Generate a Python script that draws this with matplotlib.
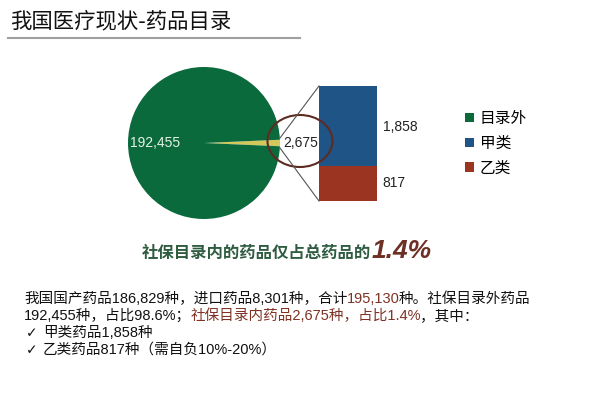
import matplotlib
matplotlib.use("Agg")
import matplotlib.pyplot as plt
from matplotlib.patches import Ellipse, Patch

plt.rcParams['font.family'] = ['Liberation Sans', 'Noto Sans CJK SC', 'DejaVu Sans']
FAM = ['Liberation Sans', 'Noto Sans CJK SC', 'DejaVu Sans']

# ---- data ----
title = "我国医疗现状-药品目录"
pie_labels = ["目录内", "目录外"]
pie_values = [2675, 192455]
bar_labels = ["乙类", "甲类"]
bar_values = [817, 1858]
legend_labels = ["目录外", "甲类", "乙类"]
subtitle = "社保目录内的药品仅占总药品的"
subtitle_pct = "1.4%"
body_lines = [
    [("我国国产药品186,829种，进口药品8,301种，合计", "k"), ("195,130", "b"), ("种。社保目录外药品", "k")],
    [("192,455种，占比98.6%；", "k"), ("社保目录内药品2,675种，占比1.4%", "b"), ("，其中：", "k")],
]
check_items = ["甲类药品1,858种", "乙类药品817种（需自负10%-20%）"]

GREEN = '#0a6a3c'
YELLOW = '#d3c85a'
BLUE = '#1f5487'
RED = '#9b3522'
BROWN = '#7f3224'

W, H = 600, 399
fig = plt.figure(figsize=(6, 3.99), dpi=100)
fig.patch.set_facecolor('white')

def fax(left, top, w, h):
    return fig.add_axes([left / W, 1 - (top + h) / H, w / W, h / H])

# ---- pie ----
pax = fax(128, 67, 152, 152)
total = sum(pie_values)
small_angle = pie_values[0] / total * 360
wedges, _ = pax.pie(pie_values, colors=[YELLOW, GREEN], startangle=-small_angle / 2,
                    radius=1, counterclock=True, wedgeprops=dict(linewidth=0))
pax.set_xlim(-1, 1)
pax.set_ylim(-1, 1)
pax.set_aspect('equal')
pax.axis('off')
pax.text(-0.645, 0, f"{pie_values[1]:,}", color='#e6f3e6', fontsize=10,
         ha='center', va='center', family=FAM)

# ---- stacked bar ----
bax = fax(319, 86, 58, 115)
bax.bar(0, bar_values[0], width=1, color=RED, linewidth=0)
bax.bar(0, bar_values[1], bottom=bar_values[0], width=1, color=BLUE, linewidth=0)
bax.set_xlim(-0.5, 0.5)
bax.set_ylim(0, sum(bar_values))
bax.axis('off')
bax.annotate(f"{bar_values[1]:,}", xy=(0.5, bar_values[0] + bar_values[1] / 2 - 30),
             xytext=(4, 0), textcoords='offset points', ha='left', va='center',
             fontsize=10, color='#222222', annotation_clip=False)
bax.annotate(f"{bar_values[0]:,}", xy=(0.5, bar_values[0] / 2),
             xytext=(4, 0), textcoords='offset points', ha='left', va='center',
             fontsize=10, color='#222222', annotation_clip=False)

# ---- overlay ----
ov = fig.add_axes([0, 0, 1, 1])
ov.set_xlim(0, W)
ov.set_ylim(H, 0)
ov.axis('off')
ov.patch.set_visible(False)

ov.add_patch(Ellipse((300, 141), 65, 52, fill=False, edgecolor='#5e2b22', lw=1.5))
ov.plot([280, 319], [138, 86], color='#555555', lw=0.8)
ov.plot([280, 319], [148, 201], color='#555555', lw=0.8)
ov.text(283, 143, f"{pie_values[0]:,}", fontsize=10, color='#222222', ha='left', va='center')

ov.text(10, 21, title, fontsize=15.4, color='#111111', ha='left', va='center',
        family=['Noto Sans CJK SC', 'DejaVu Sans'])
ov.plot([8, 300], [38, 38], color='#a0a0a0', lw=1.5)

renderer = fig.canvas.get_renderer()

def rich_line(x, y, segments, size, gap=-1):
    for s, c, kw in segments:
        opts = dict(color=c, fontsize=size, va='baseline', ha='left')
        opts.update(kw)
        t = ov.text(x, y, s, **opts)
        bb = t.get_window_extent(renderer)
        x = ov.transData.inverted().transform((bb.x1, bb.y0))[0] + gap

rich_line(142, 258, [(subtitle, '#2f5c40', dict(family=['Noto Sans CJK SC'], fontweight='bold')),
                     (subtitle_pct, '#6e2f25', dict(family=['Liberation Sans'], fontweight='bold',
                                                   style='italic', fontsize=19))], 11.8, gap=0)

cmap = {"k": '#111111', "b": BROWN}
baselines = [303, 320, 337, 354]
for i, segs in enumerate(body_lines):
    rich_line(24, baselines[i], [(s, cmap[c], dict(family=FAM)) for s, c in segs], 10.5)
for j, item in enumerate(check_items):
    y = baselines[2 + j]
    ov.text(26, y, "✓", fontsize=10, color='#111111', va='baseline', ha='left', family=['DejaVu Sans'])
    rich_line(43, y, [(item, '#111111', dict(family=FAM))], 10.5)

# ---- legend ----
handles = [Patch(facecolor=GREEN), Patch(facecolor=BLUE), Patch(facecolor=RED)]
fig.legend(handles, legend_labels, loc='upper left', bbox_to_anchor=(465 / W, 1 - 110 / H),
           frameon=False, handlelength=0.55, handleheight=0.55, handletextpad=0.4,
           labelspacing=0.5, borderpad=0, borderaxespad=0,
           prop=dict(family=['Noto Sans CJK SC'], size=11.3))

fig.savefig('out.png', dpi=100, facecolor='white')
